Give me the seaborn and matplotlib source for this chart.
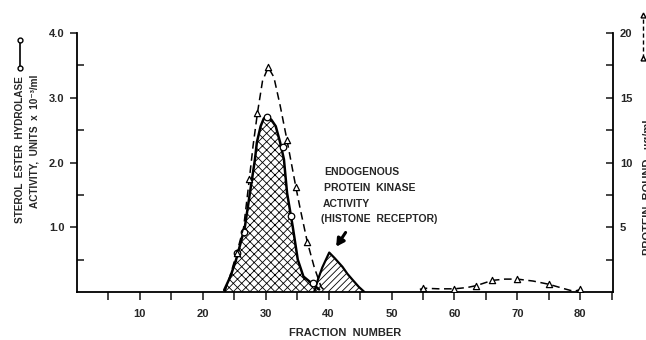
import numpy as np
import pandas as pd
import seaborn as sns
import matplotlib.pyplot as plt
from matplotlib.lines import Line2D

# sterol ester hydrolase activity (left axis), measured fractions
circle_frac = [25.5, 26.6, 30.2, 32.7, 34.1, 37.5]
circle_act = [0.61, 0.92, 2.71, 2.24, 1.18, 0.14]

# protein bound (right axis), measured fractions
tri_frac = [25.4, 27.4, 28.7, 30.4, 33.4, 34.8, 36.6,
            55, 60, 63.5, 66, 70, 75, 80]
tri_prot = [3.0, 8.7, 13.85, 17.35, 11.7, 8.1, 3.9,
            0.3, 0.25, 0.5, 0.9, 1.0, 0.6, 0.2]

# hand drawn curves
solid_frac = [23.4, 24.4, 25.3, 26.0, 26.7, 27.5, 28.3, 28.6, 29.2, 29.7, 30.2,
              30.9, 31.6, 32.3, 32.9, 33.4, 34.3, 35.1, 36.0, 37.5, 38.5]
solid_act = [0.03, 0.24, 0.5, 0.75, 1.01, 1.53, 2.05, 2.31, 2.56, 2.68, 2.71,
             2.66, 2.56, 2.31, 2.05, 1.53, 1.01, 0.5, 0.24, 0.12, 0.04]

dash1_frac = [23.5, 24.5, 25.4, 26.5, 27.4, 28.0, 28.7, 29.5, 30.4, 31.3,
              32.3, 33.4, 34.8, 35.5, 36.6, 37.7, 38.8, 39.6]
dash1_prot = [0.0, 1.5, 3.0, 5.0, 8.7, 11.3, 13.85, 16.3, 17.35, 16.6,
              14.4, 11.7, 8.1, 6.4, 3.9, 1.95, 0.4, 0.0]

dash2_frac = [54.5, 55, 57.5, 60, 62, 63.5, 66, 68, 70, 72.5, 75, 77.5, 79, 80]
dash2_prot = [0.2, 0.3, 0.25, 0.25, 0.35, 0.5, 0.9, 1.0, 1.0, 0.85, 0.6, 0.25, 0.05, 0.2]

kinase_frac = [37.7, 38.3, 39.0, 40.1, 41.0, 42.2, 43.0, 43.8, 44.8, 45.7]
kinase_act = [0.0, 0.19, 0.38, 0.61, 0.52, 0.39, 0.28, 0.19, 0.08, 0.0]

x_major = [10, 20, 30, 40, 50, 60, 70, 80]
x_minor = [5, 15, 25, 35, 45, 55, 65, 75, 85]

sns.set_style('ticks')
plt.rcParams['font.family'] = ['Liberation Sans', 'DejaVu Sans']
plt.rcParams['font.weight'] = 'bold'
plt.rcParams['hatch.linewidth'] = 0.6

fig = plt.figure(figsize=(6.46, 3.40), dpi=100)
ax = fig.add_axes([0.119, 0.141, 0.830, 0.762])
ax2 = ax.twinx()

# stippled peak and hatched kinase peak
ax.fill_between(solid_frac, solid_act, 0, facecolor='white', edgecolor='black',
                hatch='xxxx', linewidth=0)
ax.fill_between(kinase_frac, kinase_act, 0, facecolor='white', edgecolor='black',
                hatch='/////', linewidth=0)
sns.lineplot(x=kinase_frac, y=kinase_act, ax=ax, color='black', lw=1.6, sort=False)
sns.lineplot(x=solid_frac, y=solid_act, ax=ax, color='black', lw=1.8, sort=False)
sns.scatterplot(x=circle_frac, y=circle_act, ax=ax, marker='o', s=22,
                facecolor='white', edgecolor='black', linewidth=0.9, zorder=5)

sns.lineplot(x=dash1_frac, y=dash1_prot, ax=ax2, color='black', lw=1.1,
             dashes=(5, 3), sort=False)
sns.lineplot(x=dash2_frac, y=dash2_prot, ax=ax2, color='black', lw=1.1,
             dashes=(5, 3), sort=False)
sns.scatterplot(x=tri_frac, y=tri_prot, ax=ax2, marker='^', s=20,
                facecolor='white', edgecolor='black', linewidth=0.9, zorder=5)

ax.set_xlim(0, 85.2)
ax.set_ylim(0, 4.0)
ax2.set_ylim(0, 20)

ax.set_xticks(x_major)
ax.set_xticks(x_minor, minor=True)
ax.set_yticks([1.0, 2.0, 3.0, 4.0])
ax.set_yticklabels(['1.0', '2.0', '3.0', '4.0'])
ax.set_yticks([0.5, 1.5, 2.5, 3.5], minor=True)
ax2.set_yticks([5, 10, 15, 20])
ax2.set_yticks([2.5, 7.5, 12.5, 17.5], minor=True)

for a in (ax, ax2):
    for s in a.spines.values():
        s.set_linewidth(1.3)
        s.set_color('black')
    a.spines['top'].set_visible(False)
ax.spines['right'].set_visible(False)
ax2.spines['left'].set_visible(False)
ax2.spines['bottom'].set_visible(False)

ax.tick_params(axis='x', which='both', direction='out', length=6, width=1.2,
               labelsize=8, pad=6)
ax.tick_params(axis='y', which='major', direction='out', length=5, width=1.2,
               labelsize=8, pad=4)
ax.tick_params(axis='y', which='minor', direction='in', length=5, width=1.2)
ax2.tick_params(axis='y', which='both', direction='in', length=5, width=1.2,
                labelsize=8, pad=5)
for lab in ax.get_xticklabels() + ax.get_yticklabels() + ax2.get_yticklabels():
    lab.set_fontweight('bold')

ax.set_xlabel('FRACTION  NUMBER', fontsize=8, fontweight='bold', labelpad=7)
ax.set_ylabel('')
ax2.set_ylabel('')

# annotation
ax.text(39.3, 1.86, 'ENDOGENOUS', fontsize=7.5, fontweight='bold', va='center')
ax.text(39.3, 1.61, 'PROTEIN  KINASE', fontsize=7.5, fontweight='bold', va='center')
ax.text(39.1, 1.36, 'ACTIVITY', fontsize=7.5, fontweight='bold', va='center')
ax.text(38.8, 1.13, '(HISTONE  RECEPTOR)', fontsize=7.5, fontweight='bold', va='center')
ax.annotate('', xy=(41.2, 0.70), xytext=(42.7, 0.92),
            arrowprops=dict(arrowstyle='-|>,head_length=0.45,head_width=0.25',
                            color='black', lw=2.2, shrinkA=0, shrinkB=0))

# left axis title with its key symbol
fig.text(0.031, 0.560, 'STEROL  ESTER  HYDROLASE', rotation=90, fontsize=7.2,
         fontweight='bold', ha='center', va='center')
fig.text(0.054, 0.585, 'ACTIVITY,  UNITS  x  10\u207b\u00b3/ml', rotation=90,
         fontsize=7.2, fontweight='bold', ha='center', va='center')
fig.add_artist(Line2D([0.031, 0.031], [0.80, 0.882], transform=fig.transFigure,
                      color='black', lw=1.2, marker='o', markersize=3.5,
                      markerfacecolor='white'))

# right axis title, cut by the page edge as in the scan
fig.text(1.003, 0.45, 'PROTEIN  BOUND,  \u00b5g/ml', rotation=90, fontsize=8,
         fontweight='bold', ha='center', va='center')
fig.add_artist(Line2D([0.995, 0.995], [0.83, 0.955], transform=fig.transFigure,
                      color='black', lw=1.0, dashes=(3, 2), marker='^',
                      markersize=3.5, markerfacecolor='white'))

fig.savefig('out.png', dpi=100)
